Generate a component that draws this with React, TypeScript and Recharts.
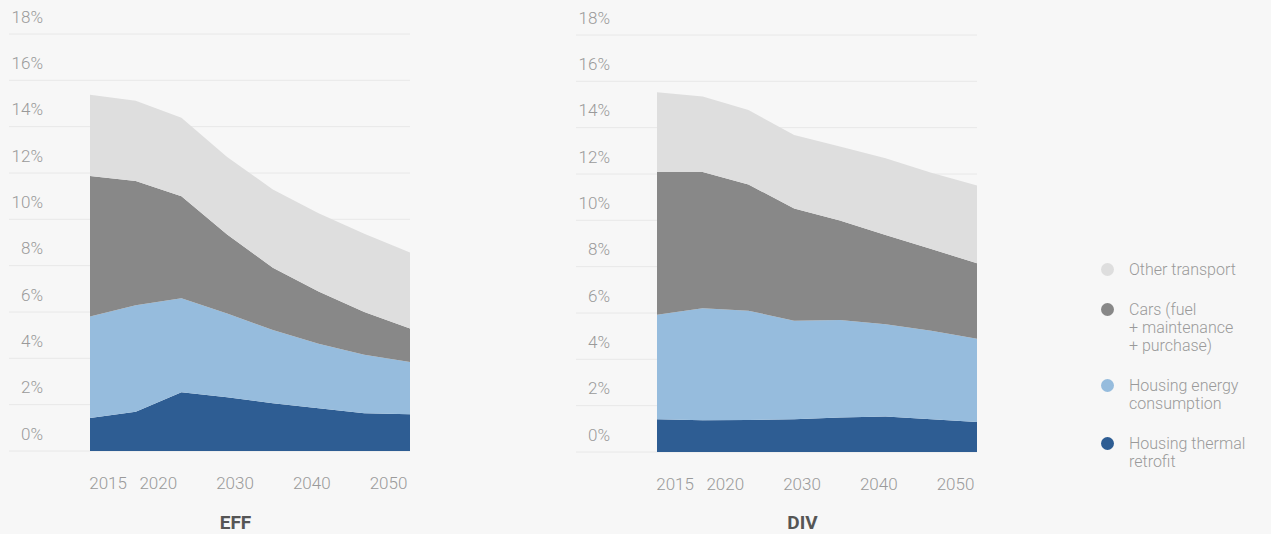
import { AreaChart, Area, XAxis, YAxis, CartesianGrid } from "recharts";

// 8 evenly spaced points per scenario, values in % of income
const periods = [2015, 2020, 2025, 2030, 2035, 2040, 2045, 2050];
const yearTicks = [2015, 2020, 2030, 2040, 2050];
const percentTicks = [0, 2, 4, 6, 8, 10, 12, 14, 16, 18];

const effThermal = [1.42, 1.69, 2.54, 2.32, 2.06, 1.85, 1.63, 1.59];
const effEnergy = [4.39, 4.6, 4.05, 3.61, 3.16, 2.78, 2.53, 2.25];
const effCars = [6.06, 5.37, 4.41, 3.41, 2.69, 2.25, 1.84, 1.45];
const effOther = [3.51, 3.46, 3.38, 3.35, 3.38, 3.38, 3.38, 3.28];

const divThermal = [1.41, 1.37, 1.38, 1.41, 1.49, 1.53, 1.41, 1.3];
const divEnergy = [4.51, 4.84, 4.72, 4.26, 4.21, 3.98, 3.82, 3.59];
const divCars = [6.17, 5.88, 5.45, 4.84, 4.29, 3.86, 3.53, 3.26];
const divOther = [3.44, 3.26, 3.21, 3.17, 3.2, 3.31, 3.29, 3.35];

// bottom to top
const series = [
	{ key: "thermal", color: "#2e5d93", label: ["Housing thermal", "retrofit"] },
	{ key: "energy", color: "#96bcdd", label: ["Housing energy", "consumption"] },
	{ key: "cars", color: "#888888", label: ["Cars (fuel", "+ maintenance", "+ purchase)"] },
	{ key: "other", color: "#dedede", label: ["Other transport"] },
];

type Row = {
	period: string;
	year: number;
	thermal: number;
	energy: number;
	cars: number;
	other: number;
};

function buildRows(thermal: number[], energy: number[], cars: number[], other: number[]) {
	return periods.map((year, i) => ({
		period: String(year),
		year,
		thermal: thermal[i],
		energy: energy[i],
		cars: cars[i],
		other: other[i],
	}));
}

const effData: Row[] = buildRows(effThermal, effEnergy, effCars, effOther);
const divData: Row[] = buildRows(divThermal, divEnergy, divCars, divOther);

const TEXT = "#9a9a9a";

// first label is pushed left of its slot like in the source chart
function YearTick(props: any) {
	const { x, y, payload, index } = props;
	const first = index === 0;
	return (
		<text
			x={first ? x + 7 : x}
			y={y}
			dy="0.71em"
			textAnchor={first ? "end" : "middle"}
			fill={TEXT}
			fontSize={17}
			fontWeight={300}
		>
			{payload.value}
		</text>
	);
}

type ChartProps = {
	title: string;
	data: Row[];
	left: number;
	top: number;
};

function ScenarioChart(props: ChartProps) {
	const { title, data, left, top } = props;
	const plotHeight = 417;

	return (
		<div style={{ position: "absolute", left, top: 0, width: 420, height: 534 }}>
			<AreaChart
				width={420}
				height={534}
				data={data}
				margin={{ top, right: 10, bottom: 534 - top - plotHeight - 30, left: 9 }}
			>
				<CartesianGrid vertical={false} stroke="#e8e8e8" xAxisId="pts" />
				<XAxis xAxisId="pts" dataKey="period" hide height={0} padding={{ left: 81, right: 0 }} />
				{/* label axis: the year labels sit off the data points in the original */}
				<XAxis
					xAxisId="yr"
					dataKey="year"
					type="number"
					domain={[2011.1, 2052.8]}
					allowDataOverflow
					ticks={yearTicks}
					interval={0}
					padding={{ left: 81, right: 0 }}
					axisLine={false}
					tickLine={false}
					tickSize={0}
					tickMargin={26}
					height={30}
					tick={<YearTick />}
				/>
				<YAxis
					type="number"
					domain={[0, 18]}
					ticks={percentTicks}
					interval={0}
					mirror
					axisLine={false}
					tickLine={false}
					tickSize={0}
					tickMargin={0}
					tickFormatter={(v: number) => `${v}%`}
					tick={{ fill: TEXT, fontSize: 17, fontWeight: 300, textAnchor: "end", dx: 34, dy: -17.5 }}
				/>
				{series.map((s) => (
					<Area
						key={s.key}
						xAxisId="pts"
						type="linear"
						dataKey={s.key}
						stackId="total"
						stroke="none"
						fill={s.color}
						fillOpacity={1}
						dot={false}
						activeDot={false}
						isAnimationActive={false}
					/>
				))}
			</AreaChart>
			<div
				style={{
					position: "absolute",
					left: 0,
					top: 512,
					width: 471,
					textAlign: "center",
					fontSize: 19,
					lineHeight: "22px",
					fontWeight: 700,
					color: "#555555",
				}}
			>
				{title}
			</div>
		</div>
	);
}

function LegendBox() {
	const items = [...series].reverse();
	return (
		<div style={{ position: "absolute", left: 1099, top: 261 }}>
			{items.map((s) => (
				<div key={s.key} style={{ position: "relative", marginBottom: 22 }}>
					<span
						style={{
							position: "absolute",
							left: 2,
							top: 2,
							width: 13,
							height: 13,
							borderRadius: "50%",
							background: s.color,
						}}
					/>
					<div
						style={{
							marginLeft: 30,
							fontSize: 16,
							lineHeight: "18px",
							fontWeight: 300,
							color: TEXT,
						}}
					>
						{s.label.map((line) => (
							<div key={line}>{line}</div>
						))}
					</div>
				</div>
			))}
		</div>
	);
}

export default function App() {
	return (
		<div
			style={{
				position: "absolute",
				left: 0,
				top: 0,
				width: 1271,
				height: 534,
				background: "#f7f7f7",
				fontFamily: "Roboto, 'Noto Sans', sans-serif",
				overflow: "hidden",
			}}
		>
			<ScenarioChart title="EFF" data={effData} left={0} top={34} />
			<ScenarioChart title="DIV" data={divData} left={567} top={35} />
			<LegendBox />
		</div>
	);
}
